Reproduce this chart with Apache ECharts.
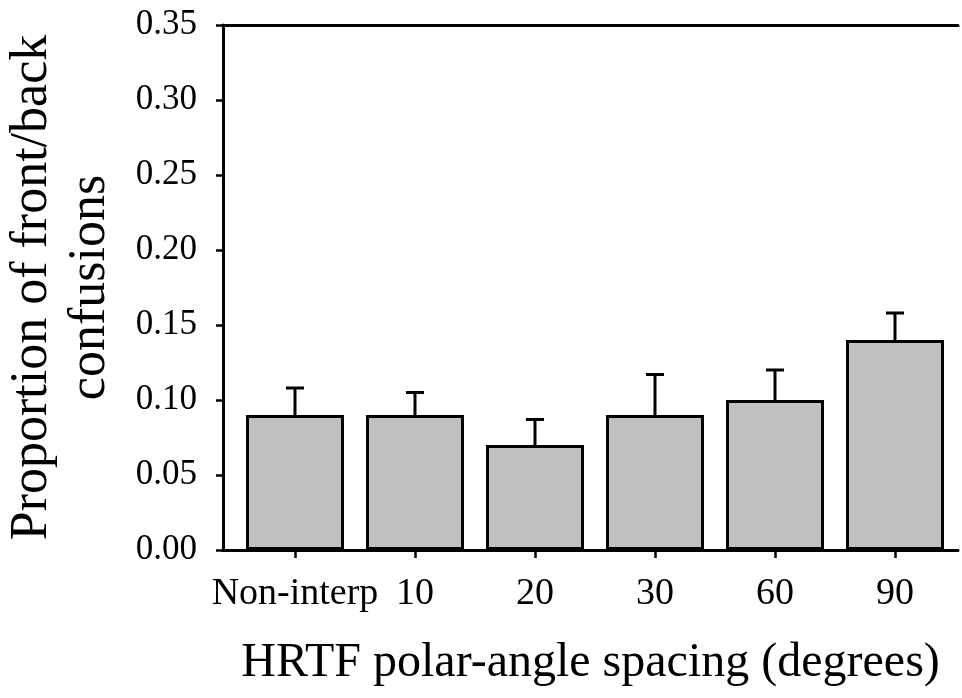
<!DOCTYPE html>
<html>
<head>
<meta charset="utf-8">
<title>Front/back confusions by HRTF polar-angle spacing</title>
<script src="https://cdn.jsdelivr.net/npm/echarts@6/dist/echarts.min.js"></script>
<style>
  html, body { margin: 0; padding: 0; background: #fff; }
  #chart { width: 962px; height: 698px; }
</style>
</head>
<body>
<div id="chart"></div>
<script>
// Conditions along the x axis
const categories = ['Non-interp', '10', '20', '30', '60', '90'];
// Mean proportion of front/back confusions per condition
const meanValues = [0.09, 0.09, 0.07, 0.09, 0.10, 0.14];
// Upper error bar length (standard error)
const errorValues = [0.018, 0.015, 0.017, 0.027, 0.020, 0.018];
// Y axis tick values
const yTicks = [0, 0.05, 0.10, 0.15, 0.20, 0.25, 0.30, 0.35];

const FONT = "'Liberation Serif', 'Times New Roman', serif";
const INK = '#000';

const barData = meanValues.map((v, i) => [i, v]);
const errData = meanValues.map((v, i) => [i, v, v + errorValues[i]]);

const chart = echarts.init(document.getElementById('chart'), null, { renderer: 'canvas' });

chart.setOption({
  animation: false,
  backgroundColor: '#fff',
  grid: { left: 223, right: 4, top: 25, bottom: 148, containLabel: false, outerBoundsMode: 'none' },
  xAxis: [
    {
      type: 'value',
      min: -0.6,
      max: 5.525,
      position: 'bottom',
      name: 'HRTF polar-angle spacing (degrees)',
      nameLocation: 'middle',
      nameGap: 89,
      nameTextStyle: { fontFamily: FONT, fontSize: 48, color: INK },
      axisLine: { show: true, onZero: false, lineStyle: { color: INK, width: 3 } },
      axisTick: { show: true, customValues: categories.map((c, i) => i), length: 8, inside: false,
                  lineStyle: { color: INK, width: 2.5 } },
      axisLabel: {
        customValues: categories.map((c, i) => i),
        formatter: v => categories[Math.round(v)] || '',
        fontFamily: FONT, fontSize: 38, color: INK, margin: 25
      },
      splitLine: { show: false }
    },
    {
      type: 'value',
      min: -0.6,
      max: 5.525,
      position: 'top',
      axisLine: { show: true, onZero: false, lineStyle: { color: INK, width: 3 } },
      axisTick: { show: false },
      axisLabel: { show: false },
      splitLine: { show: false }
    }
  ],
  yAxis: {
    type: 'value',
    min: 0,
    max: 0.35,
    interval: 0.05,
    name: 'Proportion of front/back\nconfusions',
    nameLocation: 'middle',
    nameGap: 104,
    nameTextStyle: { fontFamily: FONT, fontSize: 52, color: INK, lineHeight: 58, align: 'center' },
    axisLine: { show: true, onZero: false, lineStyle: { color: INK, width: 3 } },
    axisTick: { show: true, length: 7, lineStyle: { color: INK, width: 2.5 } },
    axisLabel: {
      customValues: yTicks,
      formatter: v => v.toFixed(2),
      fontFamily: FONT, fontSize: 35, color: INK, margin: 26
    },
    splitLine: { show: false }
  },
  series: [
    {
      type: 'bar',
      xAxisIndex: 0,
      data: barData,
      barWidth: 98,
      itemStyle: { color: '#c0c0c0', borderColor: INK, borderWidth: 3 },
      z: 2
    },
    {
      type: 'custom',
      xAxisIndex: 0,
      data: errData,
      z: 1,
      renderItem: function (params, api) {
        const x = api.value(0);
        const base = api.coord([x, api.value(1)]);
        const top = api.coord([x, api.value(2)]);
        const capHalf = 9;
        return {
          type: 'group',
          children: [
            { type: 'line', shape: { x1: base[0], y1: base[1], x2: top[0], y2: top[1] },
              style: { stroke: INK, lineWidth: 3 } },
            { type: 'line', shape: { x1: top[0] - capHalf, y1: top[1], x2: top[0] + capHalf, y2: top[1] },
              style: { stroke: INK, lineWidth: 3 } }
          ]
        };
      }
    }
  ]
});
</script>
</body>
</html>
